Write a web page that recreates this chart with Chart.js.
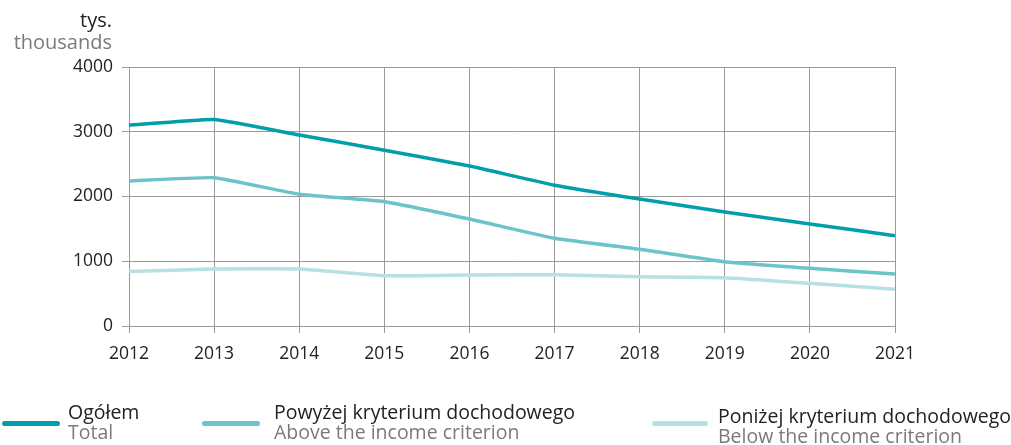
<!DOCTYPE html>
<html>
<head>
<meta charset="utf-8">
<script src="https://cdn.jsdelivr.net/npm/chart.js@4"></script>
<style>
  body { margin: 0; background: #fff; font-family: "Open Sans", sans-serif; }
  #wrap { position: relative; width: 1011px; height: 445px; overflow: hidden; }
  #unit { position: absolute; right: 899px; top: 9px; text-align: right; font-size: 20px; line-height: 22px; }
  #unit .pl { color: #222; }
  #unit .en { color: #7a7a7a; }
  .leg { position: absolute; font-size: 19.5px; line-height: 20px; }
  .sw { position: absolute; height: 5px; border-radius: 3px; }
  .leg .pl { color: #222; }
  .leg .en { color: #7a7a7a; }
</style>
</head>
<body>
<div id="wrap">
  <canvas id="chart" width="1011" height="445"></canvas>
  <div id="unit"><div class="pl">tys.</div><div class="en">thousands</div></div>
  <div id="legend"></div>
</div>
<script>
const years = ["2012","2013","2014","2015","2016","2017","2018","2019","2020","2021"];
const total = [3100, 3190, 2950, 2715, 2470, 2175, 1960, 1762, 1575, 1395];
const above = [2240, 2290, 2035, 1920, 1652, 1354, 1184, 993, 891, 803];
const below = [840, 880, 880, 777, 788, 793, 762, 746, 659, 567];

const labelsPl = ["Ogółem", "Powyżej kryterium dochodowego", "Poniżej kryterium dochodowego"];
const labelsEn = ["Total", "Above the income criterion", "Below the income criterion"];
const colors = ["#009fab", "#6cc4ca", "#b6e1e3"];

const ctx = document.getElementById("chart").getContext("2d");
new Chart(ctx, {
    type: "line",
    data: {
        labels: years,
        datasets: [total, above, below].map((d, i) => ({
            label: labelsPl[i],
            data: d,
            borderColor: colors[i],
            borderWidth: 3.5,
            pointRadius: 0,
            tension: 0.12,
            fill: false
        })).reverse()
    },
    options: {
        responsive: false,
        animation: false,
        layout: { padding: { left: 0, top: 67, right: 116, bottom: 79 } },
        plugins: { legend: { display: false }, tooltip: { enabled: false } },
        scales: {
            x: {
                offset: false,
                grid: { color: "#9a9a9a", lineWidth: 1, tickLength: 7 },
                border: { color: "#9a9a9a" },
                ticks: { color: "#222", font: { family: "Open Sans", size: 17.5 }, padding: 11, maxRotation: 0 },
                afterFit: s => { s.height = 40; }
            },
            y: {
                min: 0, max: 4000,
                grid: { color: "#9a9a9a", lineWidth: 1, tickLength: 7 },
                border: { color: "#9a9a9a" },
                ticks: {
                    stepSize: 1000, color: "#222", font: { family: "Open Sans", size: 17.5 }, padding: 9,
                    callback: v => String(v)
                },
                afterFit: s => { s.width = 129; }
            }
        }
    }
});

// legend below the chart
const legPos = [
    { sw: 2, swW: 58, tx: 68, y: 402 },
    { sw: 202, swW: 58, tx: 274, y: 402 },
    { sw: 652, swW: 56, tx: 718, y: 406 }
];
const legend = document.getElementById("legend");
labelsPl.forEach((l, i) => {
    const p = legPos[i];
    const sw = document.createElement("div");
    sw.className = "sw";
    sw.style.left = p.sw + "px";
    sw.style.top = "420.5px";
    sw.style.width = p.swW + "px";
    sw.style.background = colors[i];
    legend.appendChild(sw);
    const el = document.createElement("div");
    el.className = "leg";
    el.style.left = p.tx + "px";
    el.style.top = p.y + "px";
    el.style.whiteSpace = "nowrap";
    el.innerHTML = '<div class="pl">' + l + '</div><div class="en">' + labelsEn[i] + '</div>';
    legend.appendChild(el);
});
</script>
</body>
</html>
